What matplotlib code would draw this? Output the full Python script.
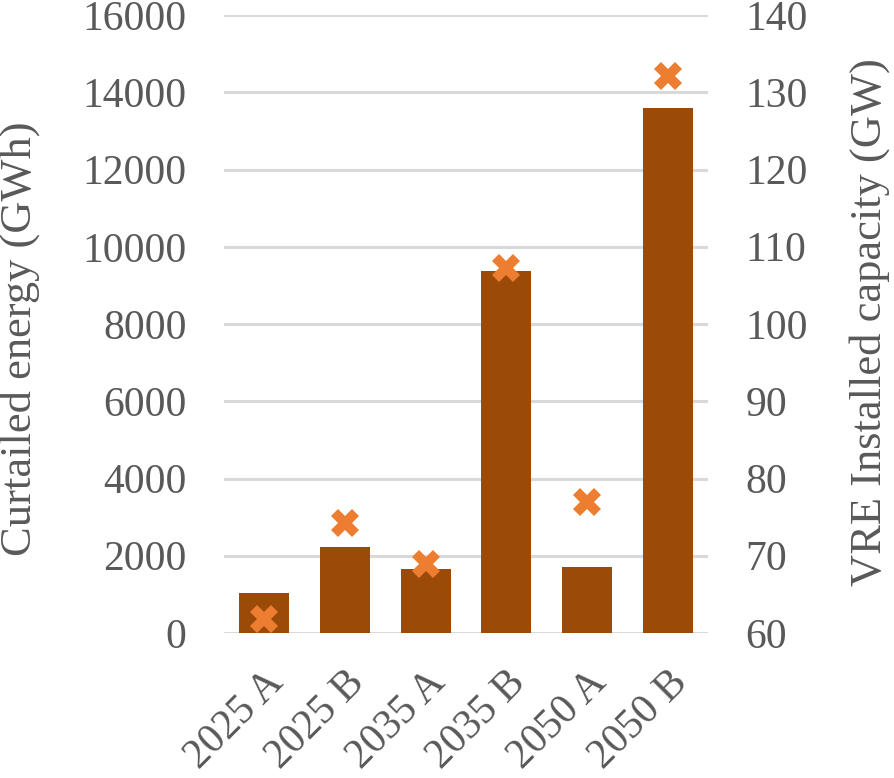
import numpy as np
import matplotlib.pyplot as plt

plt.rcParams['font.family'] = ['Liberation Serif', 'DejaVu Serif']

scenarios = ['2025 A', '2025 B', '2035 A', '2035 B', '2050 A', '2050 B']
curtailed = [1040, 2230, 1660, 9370, 1710, 13600]   # GWh
vre_capacity = [61.8, 74.3, 68.9, 107.2, 76.9, 132.1]  # GW

grey = '#595959'
x = np.arange(len(scenarios))

fig = plt.figure(figsize=(8.94, 7.78), dpi=100)
ax = fig.add_axes([224 / 894, 1 - 633 / 778, 484 / 894, 618 / 778])

ax.bar(x, curtailed, width=0.62, color='#9C4A08', zorder=2)
ax.set_ylim(0, 16000)
ax.set_xlim(-0.5, len(scenarios) - 0.5)
ax.set_yticks(np.arange(0, 16001, 2000))
ax.grid(axis='y', color='#D9D9D9', linewidth=2.2, zorder=0)
ax.set_axisbelow(True)

ax2 = ax.twinx()
ax2.plot(x, vre_capacity, linestyle='none', marker='X', markersize=20,
         color='#ED7D31', markeredgewidth=0, zorder=3)
ax2.set_ylim(60, 140)
ax2.set_yticks(np.arange(60, 141, 10))

for a in (ax, ax2):
    for s in a.spines.values():
        s.set_visible(False)
    a.tick_params(length=0, labelsize=30, colors=grey)
ax.tick_params(axis='y', pad=27)
ax2.tick_params(axis='y', pad=27)

ax.set_xticks(x)
ax.set_xticklabels(scenarios, rotation=45, ha='right', rotation_mode='anchor')
ax.tick_params(axis='x', pad=22)

ax.set_ylabel('Curtailed energy (GWh)', fontsize=32, color=grey)
ax2.set_ylabel('VRE Installed capacity (GW)', fontsize=32, color=grey)
for a, cx, cy in ((ax, (20 - 224) / 484, 0.477), (ax2, (870 - 224) / 484, 0.503)):
    lab = a.yaxis.label
    a.yaxis.set_label_coords(cx, cy)
    lab.set_rotation_mode('anchor')
    lab.set_va('center')
    lab.set_ha('center')

fig.savefig('out.png', dpi=100)
